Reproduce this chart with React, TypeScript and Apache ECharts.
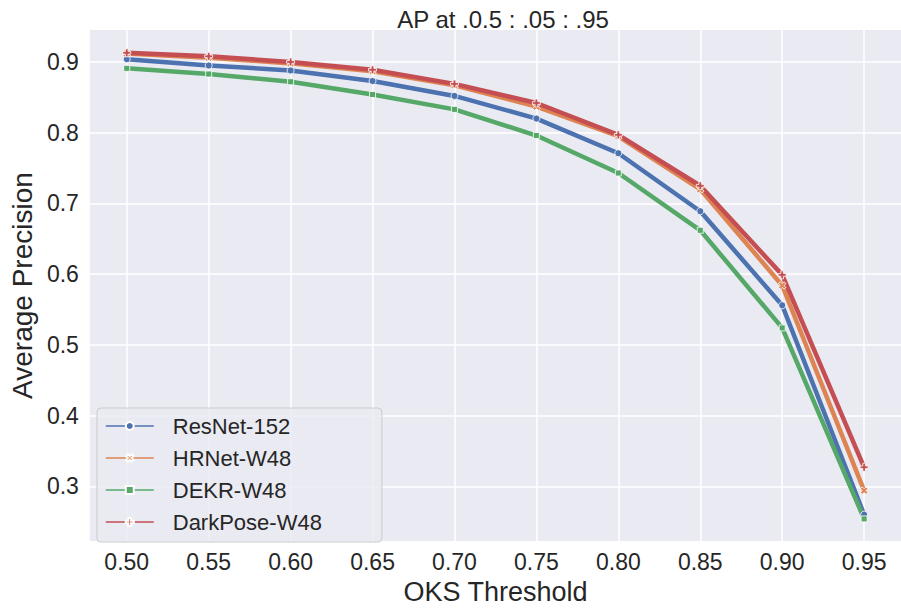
import React, { useEffect, useRef } from "react";
import * as echarts from "echarts";

const thresholds = [0.5, 0.55, 0.6, 0.65, 0.7, 0.75, 0.8, 0.85, 0.9, 0.95];
const resnet152 = [0.904, 0.895, 0.888, 0.873, 0.852, 0.82, 0.771, 0.689, 0.556, 0.26];
const hrnetW48 = [0.912, 0.906, 0.898, 0.887, 0.867, 0.837, 0.795, 0.72, 0.584, 0.294];
const dekrW48 = [0.891, 0.883, 0.872, 0.854, 0.833, 0.796, 0.743, 0.662, 0.524, 0.254];
const darkposeW48 = [0.913, 0.908, 0.9, 0.889, 0.869, 0.842, 0.797, 0.725, 0.599, 0.327];
const yTicks = [0.3, 0.4, 0.5, 0.6, 0.7, 0.8, 0.9];
const seriesNames = ["ResNet-152", "HRNet-W48", "DEKR-W48", "DarkPose-W48"];

const PLUS = "path://M-1,-3L1,-3L1,-1L3,-1L3,1L1,1L1,3L-1,3L-1,1L-3,1L-3,-1L-1,-1Z";

export default function App() {
  const ref = useRef<HTMLDivElement>(null);
  useEffect(() => {
    document.body.style.margin = "0";
    const chart = echarts.init(ref.current!, null, { renderer: "svg" });
    const font = "'Liberation Sans', Arial, sans-serif";
    const txt = "#262626";
    const colors = ["#4C72B0", "#DD8452", "#55A868", "#C44E52"];
    const datasets = [resnet152, hrnetW48, dekrW48, darkposeW48];
    const symbols = [
      { symbol: "circle", size: 7, rotate: 0 },
      { symbol: PLUS, size: 8, rotate: 45 },
      { symbol: "rect", size: 6, rotate: 0 },
      { symbol: PLUS, size: 8, rotate: 0 },
    ];
    chart.setOption({
      animation: false,
      backgroundColor: "#ffffff",
      title: {
        text: "AP at .0.5 : .05 : .95",
        left: 498,
        top: 2,
        textAlign: "center",
        textStyle: { fontFamily: font, fontSize: 24, fontWeight: "normal", color: txt },
      },
      grid: { left: 85, top: 30, right: -4, bottom: 57, show: true, backgroundColor: "#EAEAF2", borderWidth: 0 },
      xAxis: {
        type: "value",
        min: 0.4775,
        max: 0.9725,
        name: "OKS Threshold",
        nameLocation: "middle",
        nameGap: 32,
        nameTextStyle: { fontFamily: font, fontSize: 27, color: txt },
        axisLine: { show: false },
        axisTick: { show: false, customValues: thresholds },
        axisLabel: {
          customValues: thresholds,
          formatter: (v: number) => v.toFixed(2),
          fontFamily: font,
          fontSize: 23,
          color: txt,
          margin: 9,
        },
        splitLine: { show: true, lineStyle: { color: "#ffffff", width: 1.5 } },
      },
      yAxis: {
        type: "value",
        min: 0.2226,
        max: 0.9452,
        name: "Average Precision",
        nameLocation: "middle",
        nameGap: 48,
        nameTextStyle: { fontFamily: font, fontSize: 28, color: txt },
        axisLine: { show: false },
        axisTick: { show: false, customValues: yTicks },
        axisLabel: {
          customValues: yTicks,
          formatter: (v: number) => v.toFixed(1),
          fontFamily: font,
          fontSize: 23,
          color: txt,
          margin: 11,
        },
        splitLine: { show: true, lineStyle: { color: "#ffffff", width: 1.5 } },
      },
      legend: {
        orient: "vertical",
        left: 97,
        top: 408,
        width: 243,
        padding: [7, 60, 9, 8],
        itemWidth: 48,
        itemHeight: 10,
        itemGap: 10,
        backgroundColor: "rgba(234,234,242,0.8)",
        borderColor: "#cccccc",
        borderWidth: 1,
        borderRadius: 4,
        textStyle: { fontFamily: font, fontSize: 22, color: txt, padding: [0, 0, 0, 14] },
        lineStyle: { width: 1.5 },
        data: seriesNames,
      },
      series: seriesNames.map((name, i) => ({
        name,
        type: "line",
        data: thresholds.map((t, j) => [t, datasets[i][j]]),
        symbol: symbols[i].symbol,
        symbolSize: symbols[i].size,
        symbolRotate: symbols[i].rotate,
        showSymbol: true,
        color: colors[i],
        lineStyle: { color: colors[i], width: 4.5 },
        itemStyle: { color: colors[i], borderColor: "#ffffff", borderWidth: 0.8 },
        emphasis: { disabled: true },
      })),
    });
    return () => chart.dispose();
  }, []);
  return <div ref={ref} style={{ position: "fixed", left: 0, top: 0, width: 901, height: 610 }} />;
}
